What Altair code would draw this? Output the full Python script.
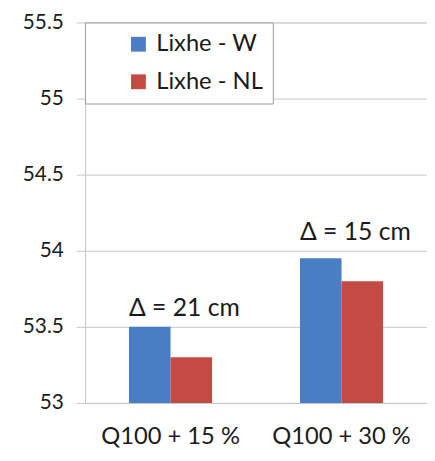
import altair as alt
import pandas as pd

categories = ["Q100 + 15 %", "Q100 + 30 %"]
series = ["Lixhe - W", "Lixhe - NL"]
values_w = [53.50, 53.95]
values_nl = [53.30, 53.80]
colors = ["#4A7EC4", "#C44A44"]

annot_cats = ["Q100 + 15 %", "Q100 + 30 %"]
annot_y = [53.62, 54.12]
annot_text = ["\u0394 = 21 cm", "\u0394 = 15 cm"]

rows = []
for c, w, n in zip(categories, values_w, values_nl):
    rows.append({"cat": c, "series": series[0], "value": w})
    rows.append({"cat": c, "series": series[1], "value": n})
df = pd.DataFrame(rows)
ann = pd.DataFrame({"cat": annot_cats, "y": annot_y, "label": annot_text})

FONT = "Lato"
TXT = "#1a1a1a"
GRID = "#c6c6c6"

xscale = alt.Scale(domain=categories, paddingInner=0.514, paddingOuter=0.257)
yscale = alt.Scale(domain=[53, 55.5], zero=False, nice=False)

bars = alt.Chart(df).mark_bar().encode(
    x=alt.X("cat:N", scale=xscale, sort=categories,
            axis=alt.Axis(title=None, labelAngle=0, ticks=False, labelPadding=22,
                          labelFontSize=24, labelFont=FONT, labelColor=TXT,
                          domainColor=GRID, grid=False)),
    xOffset=alt.XOffset("series:N", sort=series,
                        scale=alt.Scale(domain=series, paddingInner=0, paddingOuter=0)),
    y=alt.Y("value:Q", scale=yscale,
            axis=alt.Axis(title=None, values=[53, 53.5, 54, 54.5, 55, 55.5],
                          format="~g", labelFontSize=21, labelFont=FONT, labelColor=TXT,
                          tickSize=9, tickColor=GRID, domainColor=GRID, gridColor=GRID,
                          labelPadding=13)),
    y2=alt.datum(53),
    color=alt.Color("series:N", sort=series,
                    scale=alt.Scale(domain=series, range=colors),
                    legend=alt.Legend(title=None, orient="none", legendX=0, legendY=0,
                                      fillColor="white", strokeColor="#9a9a9a",
                                      padding=10, symbolType="square", symbolSize=225,
                                      symbolStrokeWidth=0, symbolOffset=32,
                                      labelFontSize=24, labelFont=FONT, labelColor=TXT,
                                      rowPadding=14, labelOffset=6)),
)

text = alt.Chart(ann).mark_text(align="left", baseline="middle", dx=-42,
                                fontSize=25, font=FONT, color=TXT).encode(
    x=alt.X("cat:N", scale=xscale, sort=categories),
    y=alt.Y("y:Q", scale=yscale),
    text="label:N",
)

chart = alt.layer(bars, text).properties(
    width=346, height=385,
    autosize=alt.AutoSizeParams(type="none"),
    padding={"left": 78, "top": 12, "right": 0, "bottom": 48},
).configure_view(stroke=None).configure(background="white")

chart.save("out.html", embed_options={"renderer": "svg", "actions": False})
